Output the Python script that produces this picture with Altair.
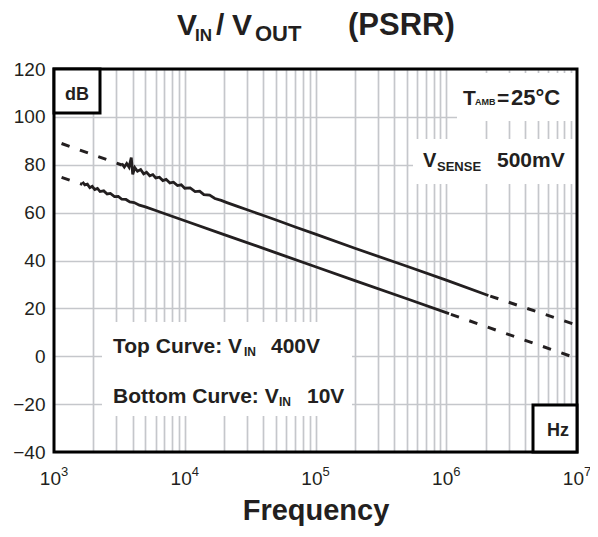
import altair as alt
import pandas as pd

# ---- data ----
top_f = [3300, 3450, 3600, 3750, 3900, 4000, 4150, 4350, 4600, 4850, 5100, 5400, 5700,
         6000, 6400, 6800, 7200, 7700, 8200, 8800, 9400, 10000, 11000, 12000, 13000,
         14000, 15500, 17000, 19000, 21000, 25000, 30000, 40000, 50000, 70000,
         100000, 200000, 500000, 1000000, 2100000]
top_db = [80.5, 79.0, 80.5, 79.0, 83.0, 76.0, 78.8, 77.3, 78.0, 76.2, 76.9, 75.4, 75.9,
          74.5, 74.8, 73.4, 73.9, 72.4, 72.7, 71.3, 71.6, 70.2, 70.3, 68.8, 69.0,
          67.5, 67.3, 65.9, 65.1, 64.2, 62.7, 61.2, 58.8, 56.9, 54.0,
          51.0, 45.1, 37.6, 31.8, 25.4]
bot_f = [1650, 1720, 1800, 1880, 1960, 2050, 2150, 2250, 2400, 2550, 2700, 2900, 3100,
         3300, 3550, 3800, 4100, 4500, 5000, 6000, 7500, 10000, 20000, 50000,
         100000, 200000, 500000, 1050000]
bot_db = [72.8, 71.6, 71.9, 70.4, 71.0, 69.6, 70.1, 68.8, 69.1, 67.8, 68.0, 66.7, 66.8,
          65.6, 65.5, 64.5, 64.2, 63.1, 62.4, 60.9, 59.0, 56.6, 50.8, 43.2,
          37.4, 31.6, 24.0, 17.8]
top_dash_l_f = [1000, 3300]
top_dash_l_db = [90.0, 79.9]
top_dash_r_f = [2100000, 10000000]
top_dash_r_db = [25.4, 13.0]
bot_dash_l_f = [1000, 1650]
bot_dash_l_db = [75.8, 71.8]
bot_dash_r_f = [1050000, 10000000]
bot_dash_r_db = [17.8, -0.9]

y_ticks = [-40, -20, 0, 20, 40, 60, 80, 100, 120]
decades = [1e3, 1e4, 1e5, 1e6, 1e7]
exponents = ["3", "4", "5", "6", "7"]
mantissas = [1, 2, 3, 4, 5, 6, 7, 8, 9]
grid_x = [m * d for d in decades[:-1] for m in mantissas][1:]

TXT = "#231f20"
GRID = "#c5c7cb"
FONT = "Liberation Sans"
W, H = 523, 383

xs = alt.Scale(type="log", domain=[1e3, 1e7])
ys = alt.Scale(domain=[-40, 120], nice=False)
xaxis = alt.Axis(values=grid_x, grid=True, labels=False, ticks=False, domain=False,
                 title=None, gridColor=GRID, gridWidth=1.7, gridOpacity=1)
yaxis = alt.Axis(values=y_ticks, grid=True, ticks=False, tickSize=0, domain=False, title=None,
                 gridColor=GRID, gridWidth=1.7, gridOpacity=1, labelFont=FONT,
                 labelFontSize=19, labelColor=TXT, labelPadding=9)


def X(field="f"):
    return alt.X(f"{field}:Q", scale=xs, axis=xaxis)


def Y(field="db"):
    return alt.Y(f"{field}:Q", scale=ys, axis=yaxis)


def df(f, d):
    return pd.DataFrame({"f": f, "db": d})


base = alt.Chart(df(grid_x, [0] * len(grid_x))).mark_point(opacity=0).encode(x=X(), y=Y())

one = pd.DataFrame({"a": [0]})


def box(x1, x2, y1, y2, stroke=None):
    kw = dict(fill="white")
    if stroke:
        kw.update(stroke=stroke, strokeWidth=3)
    else:
        kw.update(strokeWidth=0)
    return alt.Chart(one).mark_rect(**kw).encode(
        x=alt.value(x1), x2=alt.value(x2), y=alt.value(y1), y2=alt.value(y2))


def txt(s, x, y, size, bold=True, align="left"):
    return alt.Chart(one).mark_text(
        text=s, font=FONT, fontSize=size, fontWeight="bold" if bold else "normal",
        align=align, baseline="alphabetic", color=TXT
    ).encode(x=alt.value(x), y=alt.value(y))


white_boxes = [
    box(403, 522, 4, 52),
    box(359, 522, 70, 115),
    box(48, 298, 253, 347),
]


def line(f, d, dashed=False, offset=0):
    kw = dict(color=TXT, strokeWidth=2.8)
    if dashed:
        kw.update(strokeDash=[8.5, 11], strokeDashOffset=offset, strokeWidth=3)
    return alt.Chart(df(f, d)).mark_line(**kw).encode(x=X(), y=Y())


curves = [
    line(top_f, top_db),
    line(bot_f, bot_db),
    line(top_dash_l_f, top_dash_l_db, True, 11.5),
    line(bot_dash_l_f, bot_dash_l_db, True, 11.5),
    line(top_dash_r_f, top_dash_r_db, True, 17.5),
    line(bot_dash_r_f, bot_dash_r_db, True, 17.5),
]

# x tick labels 10^n
xl = pd.DataFrame({"f": decades, "e": exponents, "b": ["10"] * 5})
xlab_base = alt.Chart(xl).mark_text(font=FONT, fontSize=19, align="right", dx=7,
                                    baseline="alphabetic", color=TXT).encode(
    x=X(), y=alt.value(416), text="b:N")
xlab_exp = alt.Chart(xl).mark_text(font=FONT, fontSize=13, align="left", dx=7,
                                   baseline="alphabetic", color=TXT).encode(
    x=X(), y=alt.value(407), text="e:N")

texts = [
    # title
    txt("V", 123, -34, 30),
    txt("IN", 141, -28, 17),
    txt("/", 162, -34, 30),
    txt("V", 178, -34, 30),
    txt("OUT", 201, -28, 22),
    txt("(PSRR)", 294, -34, 31),
    # axis title
    txt("Frequency", 262, 451, 29, align="center"),
    # annotations
    txt("T", 409, 36, 21),
    txt("AMB", 421, 36, 9),
    txt("=", 443, 36, 21),
    txt("25°C", 457, 36, 22),
    txt("V", 369, 98, 20),
    txt("SENSE", 383, 102, 13),
    txt("500mV", 443, 98, 21),
    txt("Top Curve: V", 59, 284, 21),
    txt("IN", 190, 287, 12),
    txt("400V", 217, 284, 21),
    txt("Bottom Curve: V", 59, 334, 21),
    txt("IN", 225, 337, 12),
    txt("10V", 253, 334, 21),
]

frame = alt.Chart(one).mark_rect(fillOpacity=0, stroke="black", strokeWidth=3).encode(
    x=alt.value(0), x2=alt.value(W), y=alt.value(0), y2=alt.value(H))

unit_boxes = [
    box(0, 46, 0, 44, stroke="black"),
    box(479, W, 336, H, stroke="black"),
    txt("dB", 23, 31, 18, align="center"),
    txt("Hz", 504, 367, 18, align="center"),
]

chart = alt.layer(
    base, *white_boxes, *curves, xlab_base, xlab_exp, *texts, frame, *unit_boxes
).properties(
    width=W, height=H,
    autosize=alt.AutoSizeParams(type="none"),
    padding={"left": 46, "top": 61, "right": 13, "bottom": 77},
    background="white",
).configure_view(stroke=None)

chart.save("out.html", embed_options={"renderer": "svg", "actions": False})
